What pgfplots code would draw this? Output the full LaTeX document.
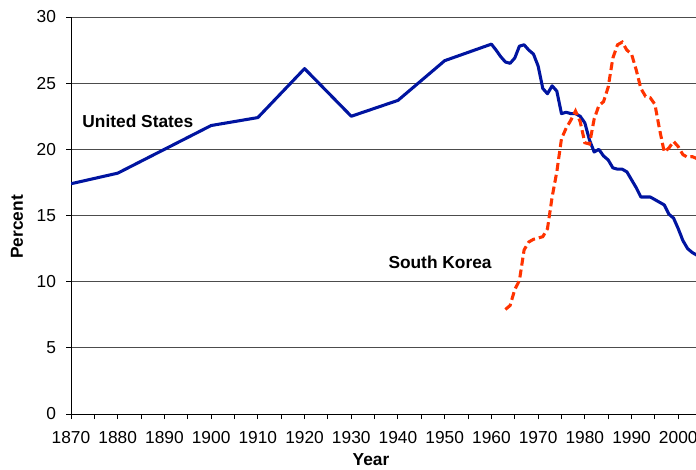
\documentclass[border=0pt]{standalone}
\usepackage{pgfplots}
\pgfplotsset{compat=1.18}
\usepackage{fontspec}
\setmainfont{Liberation Sans}
\definecolor{usblue}{RGB}{0,20,160}
\definecolor{korred}{RGB}{255,51,0}
\begin{document}
\fontsize{13pt}{15pt}\selectfont
\begin{tikzpicture}
\useasboundingbox (0,0) rectangle (522pt,351.75pt);
\clip (0,0) rectangle (522pt,351.75pt);
\begin{axis}[
  at={(53.25pt,41.25pt)}, anchor=south west,
  scale only axis, width=468.75pt, height=297.75pt,
  xmin=1870, xmax=2003.8, ymin=0, ymax=30,
  axis x line*=bottom, axis y line*=left,
  axis line style={black, line width=0.75pt, -},
  xtick={1870,1875,...,2000},
  xticklabels={1870,,1880,,1890,,1900,,1910,,1920,,1930,,1940,,1950,,1960,,1970,,1980,,1990,,2000},
  ytick={0,5,...,30},
  tick align=outside,
  major tick length=3.75pt,
  tick style={black, line width=0.75pt},
  ymajorgrids,
  grid style={black!70, line width=0.75pt},
  /pgf/number format/assume math mode=true,
  ticklabel style={font=\fontsize{13pt}{15pt}\selectfont},
  xticklabel style={yshift=-4.5pt},
  yticklabel style={xshift=-3pt},
  clip=true,
]
\addplot[usblue, line width=2.3pt, line join=round] coordinates {
(1870,17.4) (1880,18.2) (1890,20.0) (1900,21.8) (1910,22.4) (1920,26.1)
(1930,22.5) (1940,23.7) (1950,26.7) (1960,27.95) (1961,27.5) (1962,27.0)
(1963,26.6) (1964,26.5) (1965,26.9) (1966,27.8) (1967,27.9) (1968,27.5)
(1969,27.2) (1970,26.3) (1971,24.6) (1972,24.2) (1973,24.8) (1974,24.4)
(1975,22.7) (1976,22.8) (1977,22.7) (1978,22.7) (1979,22.5) (1980,22.0)
(1981,20.7) (1982,19.8) (1983,20.0) (1984,19.5) (1985,19.2) (1986,18.6)
(1987,18.5) (1988,18.5) (1989,18.3) (1990,17.7) (1991,17.1) (1992,16.4)
(1993,16.4) (1994,16.4) (1995,16.2) (1996,16.0) (1997,15.8) (1998,15.1)
(1999,14.8) (2000,14.0) (2001,13.1) (2002,12.5) (2003,12.2) (2004,12.0)
};
\addplot[korred, line width=2.3pt, dash pattern=on 6pt off 3pt] coordinates {
(1963,7.9) (1964,8.2) (1965,9.4) (1966,10.1) (1967,12.4) (1968,13.0)
(1969,13.2) (1970,13.3) (1971,13.4) (1972,14.0) (1973,16.4) (1974,18.3)
(1975,20.8) (1976,21.6) (1977,22.2) (1978,22.9) (1979,22.1) (1980,20.5)
(1981,20.4) (1982,22.3) (1983,23.3) (1984,23.6) (1985,24.7) (1986,26.9)
(1987,27.9) (1988,28.1) (1989,27.5) (1990,27.2) (1991,26.0) (1992,24.6)
(1993,24.0) (1994,23.9) (1995,23.4) (1996,21.5) (1997,19.8) (1998,20.1)
(1999,20.6) (2000,20.2) (2001,19.6) (2002,19.4) (2003,19.45) (2004,19.3)
};
\node[anchor=west, font=\fontsize{13pt}{15pt}\selectfont\bfseries, inner sep=0pt] at (axis cs:1872.4,22.15) {United States};
\node[font=\fontsize{13pt}{15pt}\selectfont\bfseries, inner sep=0pt] at (axis cs:1949,11.5) {South Korea};
\end{axis}
\node[rotate=90, font=\fontsize{13pt}{15pt}\selectfont\bfseries, inner sep=0pt] at (12.75pt,181.5pt) {Percent};
\node[anchor=base, font=\fontsize{13pt}{15pt}\selectfont\bfseries, inner sep=0pt] at (278.25pt,3pt) {Year};
\end{tikzpicture}
\end{document}
